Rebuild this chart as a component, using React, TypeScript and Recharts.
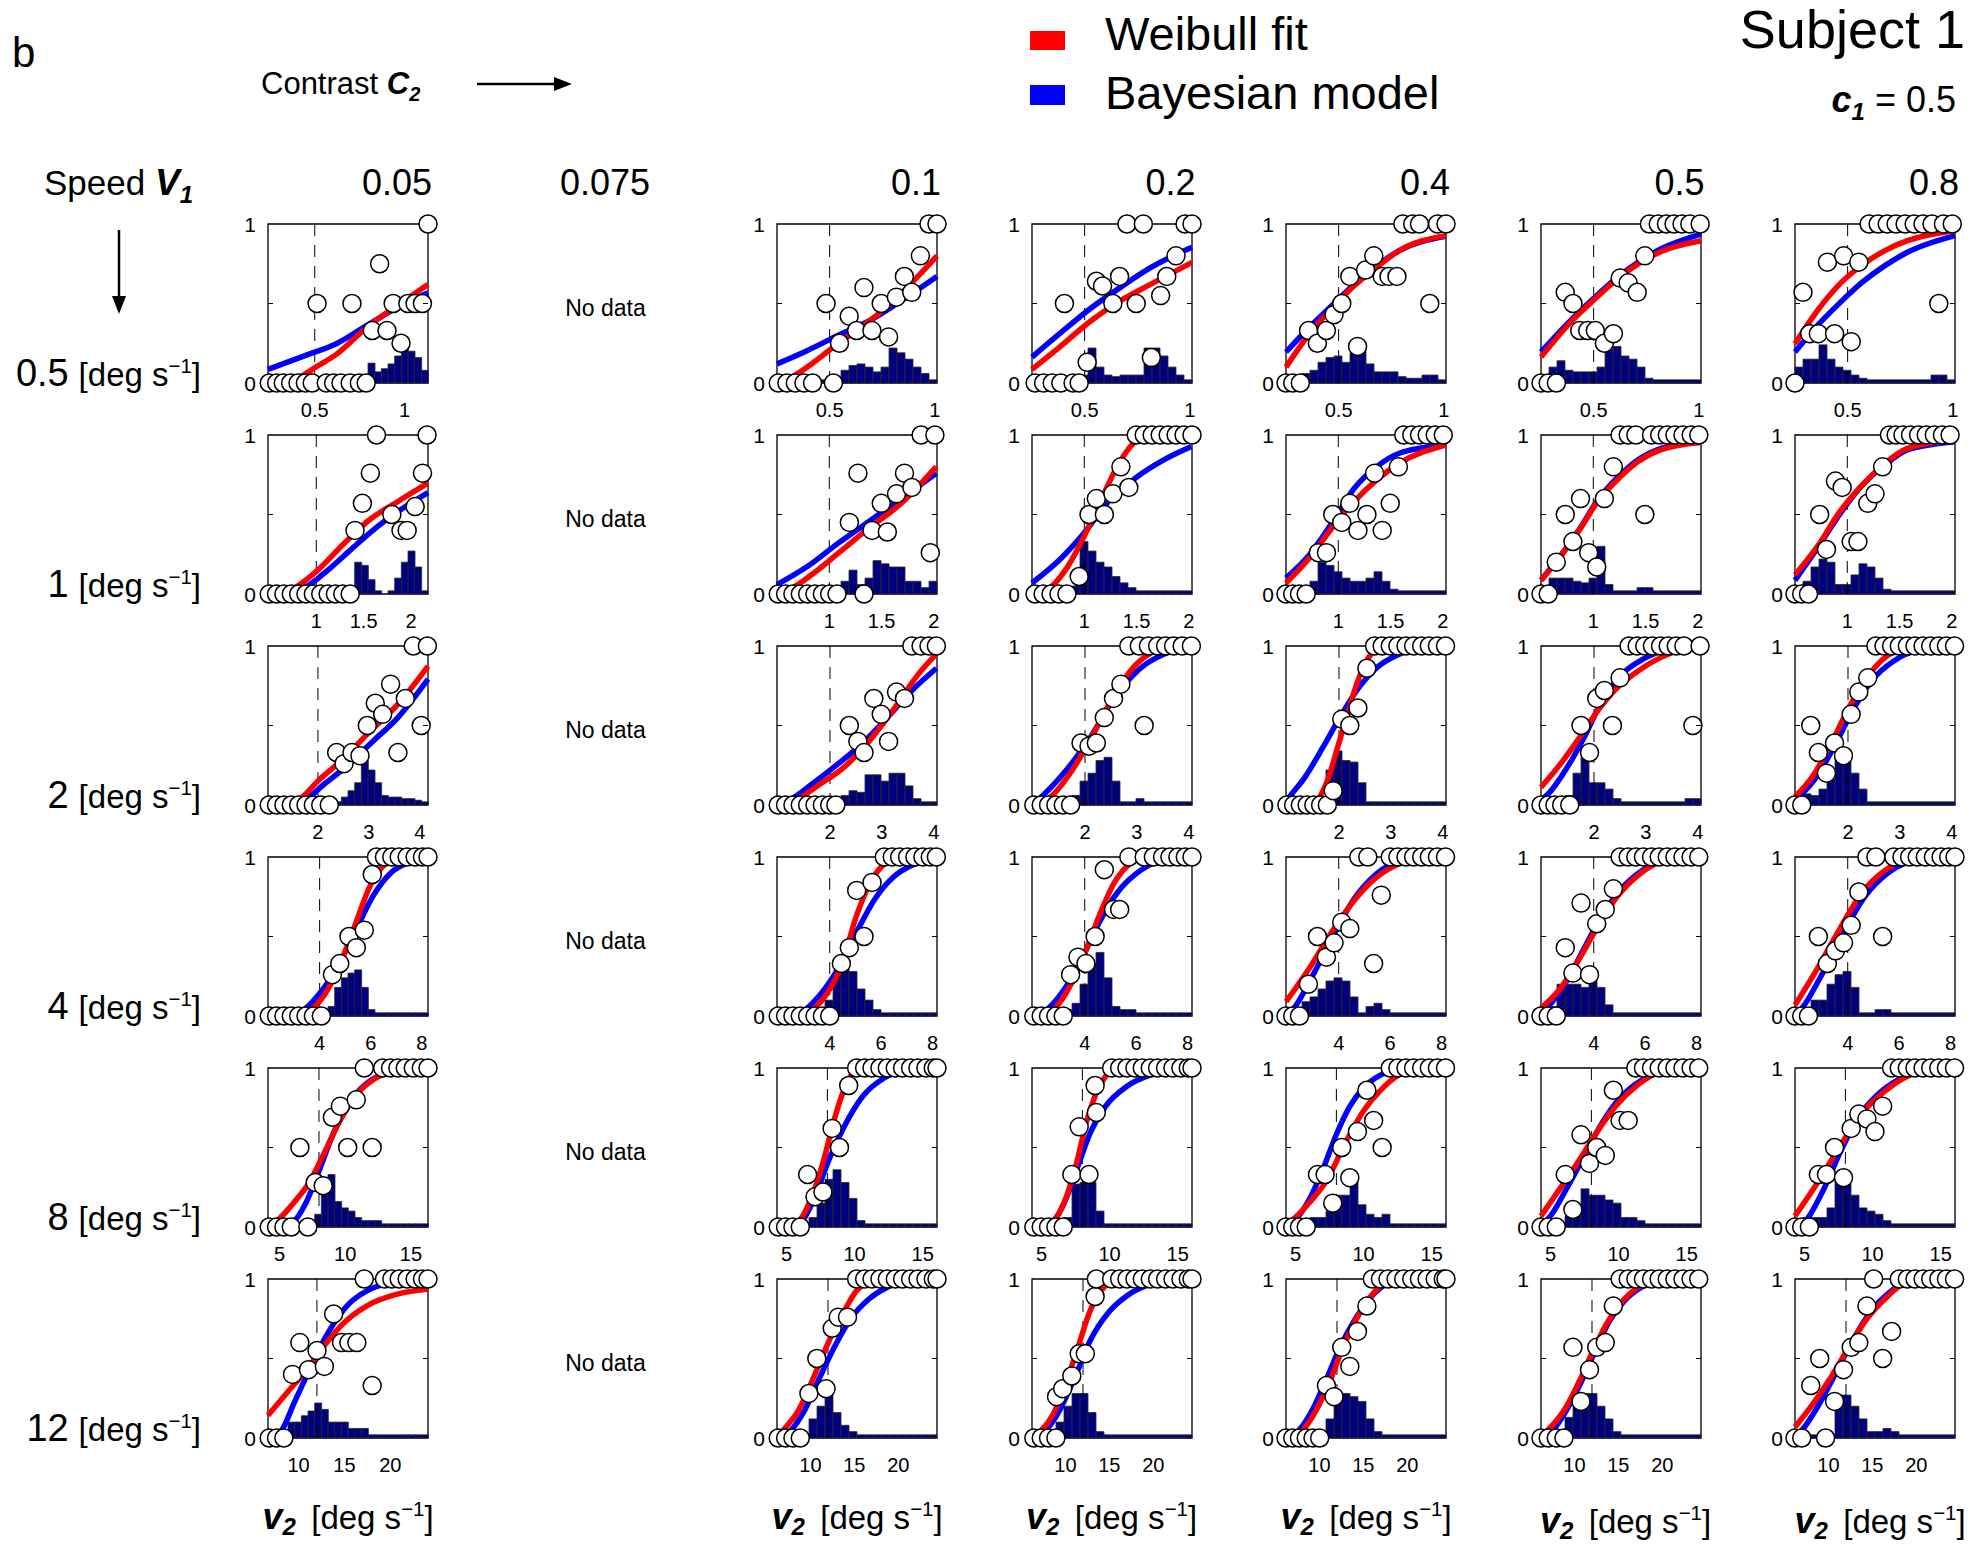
import React from "react";
import {
  ComposedChart,
  Bar,
  Line,
  Scatter,
  XAxis,
  YAxis,
  ReferenceLine,
  ReferenceArea
} from "recharts";

const FONT = '"Liberation Sans", Arial, Helvetica, sans-serif';

// rows: reference speed v1, columns: contrast c2
const speeds = [0.5, 1, 2, 4, 8, 12];
const speedLabels = ["0.5", "1", "2", "4", "8", "12"];
const contrasts = ["0.05", "0.1", "0.2", "0.4", "0.5", "0.8"];
const gridCols = [0, 2, 3, 4, 5, 6]; // grid slot of each contrast (slot 1 = 0.075, no data)
const xTicks = [[0.5, 1], [1, 1.5, 2], [2, 3, 4], [4, 6, 8], [5, 10, 15], [10, 15, 20]];
const domFirst = [[0.24, 1.13], [0.49, 2.18], [1.02, 4.16], [1.98, 8.24], [4.12, 16.3], [6.67, 24.1]];
const domRest = [[0.25, 1.01], [0.5, 2.03], [0.98, 4.06], [1.95, 8.17], [4.3, 16.05], [6.2, 24.4]];

// ---- v1 = 0.5 ----
const zeros1 = [
  [0.247, 0.288, 0.325, 0.366, 0.407, 0.448, 0.486, 0.564, 0.605, 0.646, 0.697, 0.748, 0.786],
  [0.256, 0.297, 0.337, 0.378, 0.419, 0.518],
  [0.265, 0.305, 0.346, 0.387, 0.445, 0.474],
  [0.25, 0.282, 0.318],
  [0.25, 0.284, 0.323],
  [0.25]
];
const ones1 = [
  [1.13],
  [0.972, 1.01],
  [0.701, 0.779, 0.977, 1.01],
  [0.805, 0.852, 0.884, 0.97, 1.01],
  [0.765, 0.807, 0.846, 0.882, 0.92, 0.957, 1.006],
  [0.602, 0.645, 0.688, 0.73, 0.773, 0.816, 0.858, 0.901, 0.955, 0.997]
];
const mids1 = [
  [[0.513, 0.5], [0.707, 0.5], [0.82, 0.33], [0.861, 0.75], [0.902, 0.33], [0.936, 0.5], [0.98, 0.25], [1.018, 0.5], [1.058, 0.5], [1.099, 0.5]],
  [[0.483, 0.5], [0.547, 0.25], [0.593, 0.42], [0.628, 0.33], [0.663, 0.6], [0.701, 0.33], [0.745, 0.5], [0.78, 0.29], [0.817, 0.54], [0.855, 0.67], [0.89, 0.57], [0.931, 0.8]],
  [[0.404, 0.5], [0.512, 0.13], [0.556, 0.64], [0.585, 0.61], [0.634, 0.5], [0.666, 0.67], [0.745, 0.5], [0.817, 0.16], [0.861, 0.55], [0.89, 0.67], [0.934, 0.8]],
  [[0.357, 0.33], [0.399, 0.25], [0.442, 0.33], [0.478, 0.43], [0.515, 0.5], [0.553, 0.67], [0.59, 0.23], [0.628, 0.71], [0.667, 0.8], [0.707, 0.67], [0.739, 0.67], [0.777, 0.67], [0.933, 0.5]],
  [[0.365, 0.57], [0.402, 0.5], [0.434, 0.33], [0.472, 0.33], [0.508, 0.33], [0.551, 0.25], [0.594, 0.31], [0.626, 0.66], [0.664, 0.63], [0.707, 0.57], [0.743, 0.8]],
  [[0.288, 0.57], [0.32, 0.31], [0.361, 0.31], [0.404, 0.76], [0.438, 0.31], [0.481, 0.8], [0.517, 0.26], [0.553, 0.76], [0.933, 0.5]]
];
const red1 = [
  [[0.24, 0], [0.4, 0.03], [0.52, 0.11], [0.62, 0.18], [0.79, 0.35], [0.963, 0.49], [1.13, 0.62]],
  [[0.25, 0], [0.323, 0.04], [0.425, 0.13], [0.541, 0.25], [0.628, 0.33], [0.774, 0.48], [0.919, 0.67], [1.01, 0.8]],
  [[0.25, 0.086], [0.381, 0.226], [0.526, 0.387], [0.672, 0.519], [0.817, 0.623], [1.01, 0.759]],
  [[0.25, 0.1], [0.361, 0.31], [0.468, 0.47], [0.575, 0.613], [0.681, 0.728], [0.788, 0.833], [1.01, 0.927]],
  [[0.25, 0.163], [0.391, 0.383], [0.498, 0.519], [0.604, 0.644], [0.711, 0.749], [0.818, 0.826], [1.01, 0.895]],
  [[0.25, 0.247], [0.357, 0.456], [0.463, 0.623], [0.57, 0.743], [0.677, 0.833], [0.784, 0.895], [1.01, 0.958]]
];
const blue1 = [
  [[0.24, 0.086], [0.45, 0.174], [0.62, 0.247], [0.79, 0.362], [0.963, 0.477], [1.13, 0.567]],
  [[0.25, 0.12], [0.395, 0.205], [0.541, 0.3], [0.687, 0.39], [0.832, 0.51], [1.01, 0.67]],
  [[0.25, 0.163], [0.381, 0.31], [0.526, 0.467], [0.672, 0.603], [0.817, 0.728], [1.01, 0.854]],
  [[0.25, 0.195], [0.361, 0.351], [0.468, 0.487], [0.575, 0.623], [0.681, 0.738], [0.788, 0.833], [1.01, 0.923]],
  [[0.25, 0.195], [0.391, 0.393], [0.498, 0.529], [0.604, 0.655], [0.711, 0.759], [0.818, 0.843], [1.01, 0.937]],
  [[0.25, 0.195], [0.357, 0.362], [0.463, 0.504], [0.57, 0.634], [0.677, 0.738], [0.784, 0.822], [1.01, 0.927]]
];
const hist1 = [
  [0.02, 0.02, 0.02, 0.02, 0.02, 0.02, 0.02, 0.02, 0.02, 0.02, 0.02, 0.02, 0.02, 0.02, 0.03, 0.125, 0.07, 0.09, 0.12, 0.17, 0.22, 0.2, 0.16, 0.08],
  [0.02, 0.02, 0.02, 0.02, 0.02, 0.02, 0.02, 0.02, 0.08, 0.11, 0.12, 0.1, 0.07, 0.1, 0.22, 0.19, 0.15, 0.1, 0.06, 0.02],
  [0.02, 0.02, 0.02, 0.02, 0.02, 0.02, 0.05, 0.22, 0.1, 0.05, 0.04, 0.05, 0.05, 0.05, 0.22, 0.22, 0.17, 0.1, 0.05, 0.02],
  [0.02, 0.02, 0.06, 0.08, 0.13, 0.16, 0.17, 0.13, 0.19, 0.21, 0.12, 0.07, 0.07, 0.07, 0.04, 0.03, 0.03, 0.05, 0.05, 0.02],
  [0.02, 0.1, 0.14, 0.08, 0.07, 0.07, 0.07, 0.1, 0.21, 0.23, 0.17, 0.15, 0.1, 0.03, 0.02, 0.02, 0.02, 0.02, 0.02, 0.02],
  [0.1, 0.15, 0.15, 0.24, 0.15, 0.1, 0.08, 0.05, 0.03, 0.02, 0.02, 0.02, 0.02, 0.02, 0.02, 0.02, 0.02, 0.05, 0.05, 0.02]
];

// ---- v1 = 1 ----
const zeros2 = [
  [0.503, 0.58, 0.658, 0.736, 0.814, 0.891, 0.969, 1.047, 1.125, 1.202, 1.28, 1.358],
  [0.512, 0.582, 0.652, 0.723, 0.793, 0.863, 0.934, 1.004, 1.074, 1.332],
  [0.529, 0.606, 0.682, 0.758, 0.834],
  [0.5, 0.564, 0.629, 0.693],
  [0.5, 0.569],
  [0.5, 0.564, 0.629]
];
const ones2 = [
  [1.636, 2.17],
  [1.878, 2.01],
  [1.497, 1.573, 1.649, 1.726, 1.802, 1.878, 1.954, 2.03],
  [1.626, 1.703, 1.777, 1.85, 1.927, 2.004],
  [1.256, 1.334, 1.407, 1.557, 1.635, 1.708, 1.781, 1.858, 1.936, 2.009],
  [1.403, 1.467, 1.532, 1.605, 1.682, 1.755, 1.832, 1.91, 1.983]
];
const mids2 = [
  [[1.409, 0.4], [1.487, 0.57], [1.571, 0.76], [1.798, 0.5], [1.895, 0.4], [1.96, 0.4], [2.044, 0.55], [2.122, 0.76]],
  [[1.192, 0.45], [1.274, 0.76], [1.409, 0.4], [1.497, 0.57], [1.555, 0.39], [1.643, 0.63], [1.719, 0.76], [1.79, 0.67], [1.966, 0.26]],
  [[0.951, 0.11], [1.045, 0.5], [1.115, 0.6], [1.192, 0.5], [1.274, 0.63], [1.35, 0.8], [1.426, 0.67]],
  [[0.809, 0.26], [0.887, 0.26], [0.947, 0.5], [1.033, 0.45], [1.11, 0.57], [1.188, 0.4], [1.274, 0.5], [1.347, 0.76], [1.42, 0.4], [1.497, 0.57], [1.575, 0.8]],
  [[0.646, 0.2], [0.732, 0.5], [0.805, 0.33], [0.878, 0.6], [0.956, 0.26], [1.033, 0.17], [1.106, 0.6], [1.192, 0.8], [1.493, 0.5]],
  [[0.736, 0.5], [0.801, 0.28], [0.887, 0.71], [0.951, 0.67], [1.037, 0.33], [1.102, 0.33], [1.196, 0.57], [1.265, 0.63], [1.338, 0.8]]
];
const red2 = [
  [[0.49, 0], [0.73, 0.027], [1.021, 0.153], [1.28, 0.31], [1.539, 0.456], [1.863, 0.582], [2.18, 0.697]],
  [[0.5, 0], [0.617, 0.027], [0.852, 0.132], [1.086, 0.257], [1.379, 0.414], [1.672, 0.561], [2.024, 0.801]],
  [[0.5, 0], [0.647, 0.027], [0.822, 0.153], [0.998, 0.362], [1.174, 0.613], [1.35, 0.843], [1.526, 0.979], [1.643, 1], [2.03, 1]],
  [[0.5, 0.069], [0.724, 0.226], [0.938, 0.414], [1.153, 0.582], [1.368, 0.718], [1.583, 0.822], [2.026, 0.937]],
  [[0.5, 0.086], [0.698, 0.247], [0.87, 0.404], [1.042, 0.582], [1.213, 0.707], [1.428, 0.833], [1.643, 0.906], [2.03, 0.952]],
  [[0.5, 0.121], [0.715, 0.3], [0.93, 0.519], [1.145, 0.686], [1.36, 0.822], [1.575, 0.916], [2.03, 0.969]]
];
const blue2 = [
  [[0.49, 0], [0.827, 0.027], [1.086, 0.132], [1.345, 0.268], [1.604, 0.404], [1.863, 0.519], [2.18, 0.638]],
  [[0.5, 0.059], [0.793, 0.174], [1.086, 0.32], [1.379, 0.456], [1.672, 0.592], [2.024, 0.759]],
  [[0.5, 0.069], [0.764, 0.215], [0.998, 0.383], [1.233, 0.582], [1.467, 0.718], [1.76, 0.843], [2.024, 0.927]],
  [[0.5, 0.1], [0.724, 0.247], [0.938, 0.446], [1.153, 0.665], [1.368, 0.801], [1.583, 0.885], [2.026, 0.937]],
  [[0.5, 0.086], [0.698, 0.25], [0.87, 0.41], [1.042, 0.59], [1.213, 0.72], [1.428, 0.845], [1.643, 0.915], [2.03, 0.96]],
  [[0.5, 0.086], [0.715, 0.289], [0.93, 0.504], [1.145, 0.686], [1.36, 0.812], [1.575, 0.906], [2.03, 0.958]]
];
const hist2 = [
  [0.02, 0.02, 0.02, 0.02, 0.02, 0.02, 0.02, 0.02, 0.02, 0.02, 0.02, 0.02, 0.05, 0.2, 0.18, 0.09, 0.02, 0, 0.02, 0.1, 0.2, 0.27, 0.17, 0.02],
  [0.02, 0.02, 0.02, 0.02, 0.02, 0.02, 0.02, 0.03, 0.08, 0.15, 0.06, 0.1, 0.21, 0.19, 0.17, 0.17, 0.08, 0.08, 0.04, 0.08],
  [0.02, 0.02, 0.02, 0.02, 0.02, 0.05, 0.33, 0.27, 0.2, 0.17, 0.11, 0.07, 0.04, 0.02, 0.02, 0.02, 0.02, 0.02, 0.02, 0.02],
  [0.02, 0.02, 0.02, 0.08, 0.2, 0.18, 0.14, 0.1, 0.08, 0.08, 0.1, 0.14, 0.08, 0.03, 0.02, 0.02, 0.02, 0.02, 0.02, 0.02],
  [0.02, 0.1, 0.1, 0.1, 0.08, 0.07, 0.1, 0.3, 0.06, 0.02, 0.02, 0.02, 0.04, 0.04, 0.02, 0.02, 0.02, 0.02, 0.02, 0.02],
  [0.02, 0.08, 0.17, 0.22, 0.2, 0.06, 0.06, 0.12, 0.19, 0.17, 0.1, 0.03, 0.02, 0.02, 0.02, 0.02, 0.02, 0.02, 0.02, 0.02]
];

// ---- v1 = 2 ----
const zeros3 = [
  [1.044, 1.188, 1.333, 1.477, 1.622, 1.766, 1.91, 2.055, 2.223],
  [1.004, 1.145, 1.287, 1.428, 1.57, 1.712, 1.853, 1.995, 2.113],
  [1.015, 1.157, 1.299, 1.44, 1.582, 1.723],
  [0.997, 1.127, 1.257, 1.387, 1.516, 1.646, 1.776],
  [0.98, 1.118, 1.248, 1.378, 1.534],
  [0.98, 1.11]
];
const ones3 = [
  [3.871, 4.148],
  [3.576, 3.753, 3.906, 4.048],
  [2.844, 3.045, 3.222, 3.399, 3.552, 3.706, 3.871, 4.048],
  [2.684, 2.831, 2.987, 3.134, 3.29, 3.437, 3.592, 3.739, 3.895, 4.051],
  [2.675, 2.831, 2.978, 3.125, 3.281, 3.428, 3.584, 3.731, 4.042],
  [2.537, 2.693, 2.84, 2.987, 3.143, 3.29, 3.445, 3.592, 3.748, 3.895, 4.051]
];
const mids3 = [
  [[2.367, 0.33], [2.512, 0.26], [2.668, 0.33], [2.825, 0.31], [2.969, 0.5], [3.125, 0.64], [3.27, 0.57], [3.426, 0.76], [3.57, 0.33], [3.715, 0.67], [4.027, 0.5]],
  [[2.372, 0.5], [2.538, 0.4], [2.656, 0.33], [2.844, 0.67], [2.986, 0.57], [3.128, 0.4], [3.281, 0.71], [3.434, 0.67]],
  [[1.924, 0.39], [2.077, 0.37], [2.219, 0.39], [2.372, 0.55], [2.549, 0.67], [2.691, 0.76], [3.139, 0.5]],
  [[1.888, 0.09], [2.053, 0.54], [2.208, 0.5], [2.364, 0.61], [2.537, 0.86]],
  [[1.75, 0.5], [1.914, 0.33], [2.053, 0.67], [2.2, 0.72], [2.355, 0.5], [2.502, 0.8], [3.904, 0.5]],
  [[1.283, 0.5], [1.43, 0.33], [1.586, 0.2], [1.741, 0.39], [1.914, 0.31], [2.061, 0.57], [2.208, 0.71], [2.381, 0.8]]
];
const red3 = [
  [[1.02, 0], [1.585, 0.027], [2.006, 0.153], [2.488, 0.289], [2.969, 0.446], [3.57, 0.634], [4.16, 0.874]],
  [[0.98, 0], [1.334, 0.03], [1.806, 0.13], [2.278, 0.24], [2.75, 0.4], [3.222, 0.6], [3.694, 0.82], [4.05, 0.95]],
  [[0.98, 0], [1.334, 0.05], [1.747, 0.215], [2.16, 0.446], [2.573, 0.697], [2.927, 0.864], [3.281, 0.958], [3.635, 0.994], [4.05, 1]],
  [[0.98, 0], [1.516, 0.017], [1.776, 0.153], [1.992, 0.383], [2.165, 0.571], [2.338, 0.759], [2.511, 0.895], [2.727, 0.979], [2.987, 1], [4.06, 1]],
  [[0.98, 0.111], [1.378, 0.268], [1.724, 0.425], [2.07, 0.592], [2.416, 0.728], [2.848, 0.843], [3.281, 0.927], [3.713, 0.979], [4.06, 0.994]],
  [[0.98, 0.052], [1.326, 0.184], [1.672, 0.383], [2.018, 0.613], [2.364, 0.801], [2.71, 0.927], [3.056, 0.979], [4.06, 1]]
];
const blue3 = [
  [[1.02, 0], [1.706, 0.027], [2.127, 0.132], [2.608, 0.257], [3.089, 0.404], [3.57, 0.55], [4.16, 0.791]],
  [[0.98, 0], [1.216, 0.03], [1.688, 0.14], [2.16, 0.26], [2.632, 0.39], [3.104, 0.55], [3.576, 0.72], [4.05, 0.86]],
  [[0.98, 0], [1.157, 0.05], [1.629, 0.215], [2.101, 0.425], [2.573, 0.676], [3.045, 0.854], [3.517, 0.948], [4.05, 0.99]],
  [[0.98, 0.02], [1.041, 0.048], [1.343, 0.174], [1.689, 0.362], [2.035, 0.561], [2.381, 0.738], [2.727, 0.864], [3.16, 0.948], [3.592, 0.99], [4.06, 1]],
  [[0.98, 0.03], [1.118, 0.069], [1.464, 0.226], [1.81, 0.425], [2.156, 0.655], [2.502, 0.812], [2.935, 0.916], [3.454, 0.979], [4.06, 1]],
  [[0.98, 0.027], [1.413, 0.184], [1.759, 0.383], [2.104, 0.603], [2.451, 0.78], [2.883, 0.906], [3.316, 0.969], [4.06, 0.994]]
];
const hist3 = [
  [0.02, 0.02, 0.02, 0.02, 0.02, 0.02, 0.02, 0.02, 0.02, 0.02, 0.02, 0.05, 0.09, 0.14, 0.28, 0.22, 0.14, 0.06, 0.05, 0.05, 0.04, 0.04, 0.03, 0.02],
  [0.02, 0.02, 0.02, 0.02, 0.02, 0.02, 0.02, 0.02, 0.06, 0.09, 0.08, 0.19, 0.19, 0.15, 0.2, 0.2, 0.12, 0.04, 0.02, 0.02],
  [0.02, 0.02, 0.02, 0.02, 0.02, 0.06, 0.15, 0.2, 0.28, 0.3, 0.15, 0.02, 0.02, 0.04, 0.02, 0.02, 0.02, 0.02, 0.02, 0.02],
  [0.02, 0.02, 0.02, 0.02, 0.02, 0.22, 0.34, 0.28, 0.27, 0.14, 0.02, 0.02, 0.02, 0.02, 0.02, 0.02, 0.02, 0.02, 0.02, 0.02],
  [0.02, 0.02, 0.02, 0.06, 0.2, 0.3, 0.14, 0.14, 0.1, 0.04, 0.02, 0.02, 0.02, 0.02, 0.02, 0.02, 0.02, 0.02, 0.04, 0.04],
  [0.02, 0.07, 0.06, 0.1, 0.16, 0.3, 0.32, 0.2, 0.1, 0.02, 0.02, 0.02, 0.02, 0.02, 0.02, 0.02, 0.02, 0.02, 0.02, 0.02]
];

// ---- v1 = 4 ----
const zeros4 = [
  [2.028, 2.316, 2.604, 2.892, 3.18, 3.468, 3.756, 4.068],
  [1.998, 2.284, 2.57, 2.856, 3.142, 3.428, 3.714, 4.0],
  [2.021, 2.307, 2.593, 2.879, 3.165],
  [1.95, 2.212, 2.474],
  [1.95, 2.23, 2.544],
  [1.95, 2.212, 2.474]
];
const ones4 = [
  [6.224, 6.536, 6.824, 7.112, 7.424, 7.736, 8.024, 8.24],
  [6.12, 6.43, 6.716, 7.026, 7.312, 7.622, 7.908, 8.146],
  [5.715, 6.311, 6.668, 7.026, 7.312, 7.621, 7.908, 8.17],
  [4.78, 5.13, 6.003, 6.3, 6.614, 6.911, 7.226, 7.523, 7.837, 8.152],
  [5.025, 5.339, 5.636, 5.933, 6.248, 6.545, 6.859, 7.156, 7.471, 7.785, 8.082],
  [4.745, 5.095, 5.793, 6.108, 6.405, 6.702, 7.016, 7.331, 7.628, 7.925, 8.17]
];
const mids4 = [
  [[4.5, 0.26], [4.788, 0.33], [5.148, 0.5], [5.436, 0.43], [5.748, 0.54], [6.06, 0.89]],
  [[4.452, 0.33], [4.762, 0.43], [5.048, 0.79], [5.334, 0.5], [5.644, 0.84]],
  [[3.451, 0.26], [3.737, 0.37], [4.047, 0.33], [4.404, 0.5], [4.762, 0.92], [5.12, 0.67], [5.358, 0.67]],
  [[2.823, 0.2], [3.173, 0.5], [3.522, 0.37], [3.819, 0.46], [4.116, 0.59], [4.431, 0.55], [5.357, 0.33], [5.654, 0.76]],
  [[2.893, 0.43], [3.19, 0.27], [3.505, 0.71], [3.837, 0.26], [4.116, 0.58], [4.448, 0.67], [4.763, 0.8]],
  [[2.858, 0.5], [3.208, 0.33], [3.522, 0.41], [3.837, 0.46], [4.134, 0.57], [4.431, 0.78], [5.357, 0.5]]
];
const red4 = [
  [[1.98, 0], [3.467, 0.027], [4.186, 0.132], [4.786, 0.32], [5.385, 0.571], [5.985, 0.822], [6.585, 0.958], [7.304, 1], [8.24, 1]],
  [[1.95, 0], [3.142, 0.027], [3.856, 0.132], [4.452, 0.32], [5.048, 0.634], [5.525, 0.822], [6.001, 0.937], [6.716, 0.994], [8.17, 1]],
  [[1.95, 0], [2.665, 0.027], [3.38, 0.174], [3.976, 0.383], [4.571, 0.634], [5.167, 0.843], [5.763, 0.958], [6.359, 0.994], [8.17, 1]],
  [[1.95, 0.09], [2.858, 0.3], [3.732, 0.529], [4.605, 0.728], [5.479, 0.874], [6.352, 0.958], [7.226, 0.994], [8.17, 1]],
  [[1.95, 0.048], [2.754, 0.184], [3.452, 0.362], [4.151, 0.561], [4.85, 0.738], [5.724, 0.885], [6.597, 0.969], [7.471, 0.994], [8.17, 1]],
  [[1.95, 0.069], [2.824, 0.3], [3.697, 0.55], [4.571, 0.78], [5.444, 0.916], [6.143, 0.979], [6.842, 1], [8.17, 1]]
];
const blue4 = [
  [[1.98, 0], [3.227, 0.027], [3.947, 0.132], [4.666, 0.299], [5.385, 0.529], [6.105, 0.759], [6.824, 0.906], [7.544, 0.969], [8.24, 0.994]],
  [[1.95, 0], [2.903, 0.027], [3.618, 0.132], [4.333, 0.299], [5.048, 0.529], [5.763, 0.738], [6.478, 0.874], [7.193, 0.948], [8.17, 0.985]],
  [[1.95, 0], [2.427, 0.027], [3.142, 0.153], [3.856, 0.351], [4.571, 0.592], [5.286, 0.78], [6.001, 0.895], [6.835, 0.969], [8.17, 0.994]],
  [[1.95, 0.01], [2.247, 0.048], [2.858, 0.215], [3.732, 0.487], [4.605, 0.738], [5.479, 0.895], [6.352, 0.979], [7.051, 1], [8.17, 1]],
  [[1.95, 0.02], [2.23, 0.059], [2.928, 0.215], [3.627, 0.425], [4.326, 0.634], [5.025, 0.791], [5.898, 0.916], [6.946, 0.99], [8.17, 1]],
  [[1.95, 0.01], [2.212, 0.048], [2.911, 0.236], [3.784, 0.508], [4.658, 0.749], [5.531, 0.895], [6.318, 0.969], [7.191, 1], [8.17, 1]]
];
const hist4 = [
  [0.02, 0.02, 0.02, 0.02, 0.02, 0.02, 0.02, 0.02, 0.02, 0.06, 0.18, 0.24, 0.27, 0.29, 0.18, 0.04, 0.02, 0.02, 0.02, 0.02, 0.02, 0.02, 0.02, 0.02],
  [0.02, 0.02, 0.02, 0.02, 0.02, 0.02, 0.1, 0.26, 0.34, 0.28, 0.17, 0.1, 0.04, 0.02, 0.02, 0.02, 0.02, 0.02, 0.02, 0.02],
  [0.02, 0.02, 0.02, 0.02, 0.04, 0.08, 0.2, 0.33, 0.4, 0.24, 0.06, 0.04, 0.04, 0.02, 0.02, 0.02, 0.02, 0.02, 0.02, 0.02],
  [0.02, 0.02, 0.09, 0.12, 0.17, 0.22, 0.24, 0.22, 0.12, 0.02, 0.06, 0.08, 0.04, 0.02, 0.02, 0.02, 0.02, 0.02, 0.02, 0.02],
  [0.02, 0.06, 0.2, 0.2, 0.2, 0.18, 0.24, 0.18, 0.07, 0.02, 0.02, 0.02, 0.02, 0.02, 0.02, 0.02, 0.02, 0.02, 0.02, 0.02],
  [0.02, 0.04, 0.1, 0.1, 0.2, 0.26, 0.28, 0.18, 0.02, 0.02, 0.04, 0.04, 0.02, 0.02, 0.02, 0.02, 0.02, 0.02, 0.02, 0.02]
];

// ---- v1 = 8 ----
const zeros5 = [
  [4.213, 4.773, 5.333, 5.893, 7.153],
  [4.39, 4.93, 5.47, 6.01],
  [4.435, 4.975, 5.515, 6.055, 6.595],
  [4.3, 4.795, 5.29, 5.785],
  [4.3, 4.828, 5.422],
  [4.3, 4.795, 5.356]
];
const ones5 = [
  [11.45, 12.85, 13.45, 14.01, 14.57, 15.18, 15.79, 16.3],
  [10.15, 10.735, 11.275, 11.86, 12.4, 12.985, 13.525, 14.11, 14.65, 15.235, 15.775, 16.05],
  [10.15, 10.735, 11.275, 11.86, 12.4, 12.985, 13.525, 14.11, 14.65, 15.235, 15.775, 16.05],
  [11.956, 12.517, 13.111, 13.672, 14.266, 14.827, 15.421, 16.015],
  [11.263, 11.824, 12.418, 12.979, 13.573, 14.134, 14.728, 15.322, 15.883],
  [11.395, 11.956, 12.55, 13.111, 13.705, 14.266, 14.86, 15.421, 16.015]
];
const mids5 = [
  [[6.547, 0.5], [7.714, 0.28], [8.32, 0.26], [9.02, 0.69], [9.627, 0.76], [10.187, 0.5], [10.84, 0.8], [12.05, 0.5]],
  [[6.55, 0.33], [7.09, 0.19], [7.675, 0.22], [8.35, 0.62], [8.89, 0.5], [9.565, 0.89]],
  [[7.225, 0.33], [7.765, 0.63], [8.485, 0.33], [8.935, 0.89], [9.025, 0.72]],
  [[6.61, 0.33], [7.171, 0.33], [7.732, 0.15], [8.392, 0.5], [8.986, 0.31], [9.547, 0.6], [10.24, 0.86], [10.735, 0.67], [11.362, 0.5]],
  [[6.082, 0.33], [6.643, 0.11], [7.237, 0.58], [7.864, 0.4], [8.392, 0.5], [9.019, 0.45], [9.613, 0.86], [10.108, 0.67], [10.702, 0.67]],
  [[6.016, 0.33], [6.61, 0.33], [7.204, 0.5], [7.864, 0.31], [8.425, 0.62], [8.986, 0.71], [9.58, 0.68], [10.174, 0.6], [10.735, 0.76]]
];
const red5 = [
  [[4.12, 0.01], [4.913, 0.048], [6.08, 0.153], [7.247, 0.278], [8.413, 0.467], [9.58, 0.665], [10.747, 0.822], [12.147, 0.927], [14.013, 0.99], [16.3, 1]],
  [[4.3, 0], [5.875, 0.038], [6.775, 0.174], [7.675, 0.404], [8.575, 0.697], [9.475, 0.916], [10.375, 0.99], [16.05, 1]],
  [[4.3, 0], [5.65, 0.027], [6.55, 0.132], [7.45, 0.362], [8.35, 0.676], [9.25, 0.885], [10.15, 0.979], [11.5, 1], [16.05, 1]],
  [[4.3, 0.02], [4.696, 0.04], [6.016, 0.153], [7.336, 0.3], [8.656, 0.529], [9.976, 0.728], [11.296, 0.864], [12.616, 0.958], [13.936, 0.994], [16.05, 1]],
  [[4.3, 0.069], [5.818, 0.257], [7.138, 0.425], [8.458, 0.603], [9.778, 0.759], [11.428, 0.895], [13.078, 0.979], [14.728, 1], [16.05, 1]],
  [[4.3, 0.069], [5.95, 0.278], [7.6, 0.508], [9.25, 0.718], [10.9, 0.854], [12.55, 0.948], [14.2, 0.99], [16.05, 1]]
];
const blue5 = [
  [[4.12, 0], [6.08, 0.038], [7.013, 0.153], [7.947, 0.341], [9.113, 0.592], [10.28, 0.78], [11.68, 0.906], [13.547, 0.973], [16.3, 0.994]],
  [[4.3, 0], [6.1, 0.038], [7.0, 0.174], [8.125, 0.425], [9.25, 0.634], [10.6, 0.822], [12.175, 0.937], [14.2, 0.99], [16.05, 1]],
  [[4.3, 0], [5.875, 0.038], [6.775, 0.174], [7.675, 0.383], [8.575, 0.592], [9.7, 0.759], [11.275, 0.885], [13.075, 0.958], [14.875, 0.99], [16.05, 1]],
  [[4.3, 0.02], [5.026, 0.052], [6.016, 0.174], [7.006, 0.362], [7.996, 0.582], [8.986, 0.759], [9.976, 0.874], [11.296, 0.958], [12.616, 0.994], [16.05, 1]],
  [[4.3, 0.02], [4.828, 0.052], [6.148, 0.236], [7.468, 0.446], [8.788, 0.655], [10.108, 0.812], [11.758, 0.927], [13.408, 0.985], [15.388, 1], [16.05, 1]],
  [[4.3, 0], [4.96, 0.027], [6.28, 0.215], [7.6, 0.467], [8.92, 0.686], [10.24, 0.822], [11.89, 0.927], [13.87, 0.985], [16.05, 1]]
];
const hist5 = [
  [0.02, 0.02, 0.02, 0.02, 0.02, 0.02, 0.02, 0.08, 0.3, 0.33, 0.16, 0.12, 0.1, 0.06, 0.04, 0.04, 0.04, 0.02, 0.02, 0.02, 0.02, 0.02, 0.02, 0.02],
  [0.02, 0.02, 0.02, 0.02, 0.06, 0.15, 0.3, 0.36, 0.28, 0.18, 0.04, 0.02, 0.02, 0.02, 0.02, 0.02, 0.02, 0.02, 0.02, 0.02],
  [0.02, 0.02, 0.02, 0.02, 0.06, 0.27, 0.28, 0.28, 0.1, 0.02, 0.02, 0.02, 0.02, 0.02, 0.02, 0.02, 0.02, 0.02, 0.02, 0.02],
  [0.02, 0.02, 0.02, 0.06, 0.06, 0.1, 0.2, 0.2, 0.3, 0.14, 0.08, 0.06, 0.08, 0.02, 0.02, 0.02, 0.02, 0.02, 0.02, 0.02],
  [0.02, 0.02, 0.02, 0.07, 0.1, 0.24, 0.2, 0.2, 0.17, 0.15, 0.06, 0.06, 0.04, 0.02, 0.02, 0.02, 0.02, 0.02, 0.02, 0.02],
  [0.02, 0.06, 0.06, 0.06, 0.12, 0.3, 0.32, 0.2, 0.12, 0.1, 0.08, 0.04, 0.02, 0.02, 0.02, 0.02, 0.02, 0.02, 0.02, 0.02]
];

// ---- v1 = 12 ----
const zeros6 = [
  [6.8, 7.6, 8.4],
  [6.34, 7.18, 8.01, 8.85],
  [6.41, 7.25, 8.08, 8.92],
  [6.2, 6.97, 7.73, 8.5, 9.27, 10.03],
  [6.2, 7.02, 7.94, 8.81],
  [6.2, 6.97, 9.68]
];
const ones6 = [
  [17.15, 19.36, 20.16, 20.96, 21.83, 22.7, 23.5, 24.1],
  [15.26, 16.17, 17.01, 17.91, 18.75, 19.66, 20.49, 21.4, 22.24, 23.14, 23.98, 24.4],
  [13.52, 15.26, 16.17, 17.01, 17.91, 18.75, 19.66, 20.49, 21.4, 22.24, 23.14, 23.98, 24.4],
  [16.02, 16.94, 17.8, 18.72, 19.59, 20.51, 21.38, 22.25, 23.17, 24.09, 24.4],
  [15.2, 16.12, 16.99, 17.86, 18.78, 19.64, 20.56, 21.43, 22.35, 23.27, 24.14],
  [15.15, 18.06, 18.98, 19.85, 20.77, 21.64, 22.56, 23.43, 24.35]
];
const mids6 = [
  [[9.34, 0.4], [10.14, 0.6], [11.08, 0.43], [12.01, 0.55], [12.81, 0.45], [13.82, 0.78], [14.68, 0.6], [15.48, 0.6], [16.35, 0.6], [18.02, 0.33]],
  [[9.83, 0.28], [10.73, 0.5], [11.78, 0.31], [12.48, 0.69], [13.17, 0.76], [14.22, 0.76]],
  [[8.99, 0.26], [9.69, 0.31], [10.73, 0.39], [11.57, 0.53], [12.27, 0.53], [13.38, 0.89]],
  [[10.8, 0.33], [11.67, 0.26], [12.54, 0.57], [13.46, 0.45], [14.33, 0.67], [15.4, 0.83]],
  [[9.83, 0.57], [10.75, 0.23], [11.72, 0.43], [12.54, 0.57], [13.51, 0.6], [14.43, 0.83]],
  [[7.99, 0.33], [9.01, 0.5], [10.7, 0.23], [11.72, 0.43], [12.59, 0.57], [13.46, 0.6], [14.38, 0.83], [16.17, 0.5], [17.19, 0.67]]
];
const red6 = [
  [[6.67, 0.142], [8.81, 0.289], [10.81, 0.425], [12.81, 0.582], [14.82, 0.718], [17.49, 0.833], [20.83, 0.906], [24.1, 0.937]],
  [[6.2, 0], [6.9, 0.048], [8.64, 0.174], [10.38, 0.383], [12.13, 0.613], [13.87, 0.801], [15.26, 0.927], [16.66, 0.979], [18.75, 1], [24.4, 1]],
  [[6.2, 0], [7.25, 0.048], [8.64, 0.153], [10.03, 0.341], [11.43, 0.571], [12.82, 0.801], [14.22, 0.937], [15.61, 0.994], [24.4, 1]],
  [[6.2, 0], [8.09, 0.048], [9.62, 0.174], [11.16, 0.351], [12.69, 0.571], [14.23, 0.749], [15.76, 0.885], [17.29, 0.969], [19.08, 1], [24.4, 1]],
  [[6.2, 0.01], [7.02, 0.052], [9.06, 0.195], [10.6, 0.362], [12.13, 0.55], [13.66, 0.718], [15.2, 0.843], [17.24, 0.948], [19.29, 0.994], [24.4, 1]],
  [[6.2, 0.069], [8.24, 0.215], [10.29, 0.383], [12.33, 0.571], [14.38, 0.749], [16.42, 0.874], [18.47, 0.969], [20.0, 0.994], [24.4, 1]]
];
const blue6 = [
  [[6.67, 0], [8.14, 0.048], [9.47, 0.215], [10.81, 0.383], [12.15, 0.55], [13.82, 0.718], [15.48, 0.843], [17.49, 0.927], [19.49, 0.969], [22.83, 0.994], [24.1, 1]],
  [[6.2, 0], [7.59, 0.038], [9.34, 0.174], [11.08, 0.383], [12.82, 0.582], [14.57, 0.749], [16.66, 0.874], [18.75, 0.948], [21.54, 0.99], [24.4, 1]],
  [[6.2, 0], [7.59, 0.038], [9.34, 0.174], [11.08, 0.383], [12.82, 0.613], [14.92, 0.791], [17.01, 0.895], [19.8, 0.969], [22.59, 0.994], [24.4, 1]],
  [[6.2, 0], [7.73, 0.052], [9.37, 0.195], [10.9, 0.383], [12.44, 0.582], [13.97, 0.738], [15.5, 0.864], [17.04, 0.948], [19.08, 0.994], [24.4, 1]],
  [[6.2, 0], [7.53, 0.048], [9.32, 0.195], [10.85, 0.362], [12.39, 0.55], [13.92, 0.728], [15.71, 0.864], [17.75, 0.952], [20.31, 0.994], [24.4, 1]],
  [[6.2, 0.01], [6.97, 0.048], [8.76, 0.195], [10.8, 0.404], [12.85, 0.623], [14.89, 0.801], [16.94, 0.916], [18.98, 0.979], [24.4, 1]]
];
const hist6 = [
  [0.02, 0.02, 0.02, 0.1, 0.1, 0.14, 0.17, 0.22, 0.18, 0.1, 0.1, 0.1, 0.06, 0.06, 0.06, 0.02, 0.02, 0.02, 0.02, 0.02, 0.02, 0.02, 0.02, 0.02],
  [0.02, 0.02, 0.02, 0.02, 0.12, 0.2, 0.33, 0.16, 0.08, 0.04, 0.02, 0.02, 0.02, 0.02, 0.02, 0.02, 0.02, 0.02, 0.02, 0.02],
  [0.02, 0.02, 0.02, 0.1, 0.2, 0.28, 0.28, 0.16, 0.04, 0.02, 0.02, 0.02, 0.02, 0.02, 0.02, 0.02, 0.02, 0.02, 0.02, 0.02],
  [0.02, 0.02, 0.02, 0.02, 0.02, 0.12, 0.27, 0.28, 0.26, 0.23, 0.12, 0.04, 0.02, 0.02, 0.02, 0.02, 0.02, 0.02, 0.02, 0.02],
  [0.02, 0.02, 0.04, 0.13, 0.2, 0.28, 0.28, 0.2, 0.12, 0.04, 0.02, 0.02, 0.02, 0.02, 0.02, 0.02, 0.02, 0.02, 0.02, 0.02],
  [0.02, 0.02, 0.02, 0.02, 0.02, 0.27, 0.27, 0.2, 0.12, 0.04, 0.04, 0.06, 0.04, 0.02, 0.02, 0.02, 0.02, 0.02, 0.02, 0.02]
];

const zerosRows = [zeros1, zeros2, zeros3, zeros4, zeros5, zeros6];
const onesRows = [ones1, ones2, ones3, ones4, ones5, ones6];
const midsRows = [mids1, mids2, mids3, mids4, mids5, mids6];
const redRows = [red1, red2, red3, red4, red5, red6];
const blueRows = [blue1, blue2, blue3, blue4, blue5, blue6];
const histRows = [hist1, hist2, hist3, hist4, hist5, hist6];

// layout (page pixels)
const PW = 160;
const PH = 159;
const ML = 34; // room for 0 / 1 labels
const MT = 12;
const MR = 14;
const XH = 42;
const colLeft = (c: number) => 268 + c * 254.5;
const rowTop = (r: number) => 224 + r * 211;

const YTick = (props: any) => {
  const { x, y, payload } = props;
  const v = payload.value;
  if (v === 0.5) {
    const ax = x + 12;
    return (
      <g>
        <line x1={ax} x2={ax + 5} y1={y} y2={y} stroke="#000" strokeWidth={1} />
        <line x1={ax + PW - 5} x2={ax + PW} y1={y} y2={y} stroke="#000" strokeWidth={1} />
      </g>
    );
  }
  return (
    <text x={x} y={y} dy="0.36em" textAnchor="end" fontSize={21} fontFamily={FONT} fill="#000">
      {v}
    </text>
  );
};

const Ring = (p: any) => (
  <circle cx={p.cx} cy={p.cy} r={9} fill="#fff" stroke="#000" strokeWidth={1.5} />
);

const toXY = (arr: number[][]) => arr.map(([x, y]) => ({ x, y }));

function Panel({ r, ci }: { r: number; ci: number }) {
  const c = gridCols[ci];
  const dom = ci === 0 ? domFirst[r] : domRest[r];
  const hist = histRows[r][ci].map((h, i) => ({ bin: i, h }));
  const pts = [
    ...zerosRows[r][ci].map((x) => ({ x, y: 0 })),
    ...toXY(midsRows[r][ci]),
    ...onesRows[r][ci].map((x) => ({ x, y: 1 }))
  ];
  return (
    <div style={{ position: "absolute", left: colLeft(c) - ML, top: rowTop(r) - MT }}>
      <ComposedChart
        width={ML + PW + MR}
        height={MT + PH + XH}
        data={hist}
        margin={{ top: MT, right: MR, bottom: 0, left: 0 }}
        barCategoryGap={0}
        barGap={0}
      >
        <XAxis
          xAxisId="v"
          dataKey="x"
          type="number"
          domain={dom}
          ticks={xTicks[r]}
          height={XH}
          tickSize={0}
          tickMargin={20}
          axisLine={false}
          tickLine={false}
          tick={{ fontSize: 20, fill: "#000", fontFamily: FONT }}
        />
        <XAxis xAxisId="h" dataKey="bin" type="category" height={0} hide />
        <YAxis
          yAxisId="y"
          dataKey="y"
          type="number"
          domain={[0, 1]}
          ticks={[0, 0.5, 1]}
          width={ML}
          tickSize={0}
          tickMargin={12}
          axisLine={false}
          tickLine={false}
          tick={<YTick />}
        />
        <ReferenceArea xAxisId="v" yAxisId="y" x1={dom[0]} x2={dom[1]} y1={0} y2={1} fill="none" fillOpacity={0} stroke="#000" strokeWidth={1.3} />
        <ReferenceLine xAxisId="v" yAxisId="y" x={speeds[r]} stroke="#000" strokeWidth={1} strokeDasharray="12 9" />
        <Bar xAxisId="h" yAxisId="y" dataKey="h" fill="#00007e" stroke="#2a2a2a" strokeWidth={0.8} isAnimationActive={false} />
        <Line xAxisId="v" yAxisId="y" data={toXY(blueRows[r][ci])} dataKey="y" type="monotone" stroke="#0000ff" strokeWidth={5.5} dot={false} activeDot={false} isAnimationActive={false} />
        <Line xAxisId="v" yAxisId="y" data={toXY(redRows[r][ci])} dataKey="y" type="monotone" stroke="#ff0000" strokeWidth={5.5} dot={false} activeDot={false} isAnimationActive={false} />
        <Scatter xAxisId="v" yAxisId="y" data={pts} shape={Ring} isAnimationActive={false} />
      </ComposedChart>
    </div>
  );
}

const DegUnit = ({ size }: { size: number }) => (
  <>
    <tspan fontSize={size} dx={size * 0.3}>[deg s</tspan>
    <tspan fontSize={size * 0.62} dy={-size * 0.4}>−1</tspan>
    <tspan fontSize={size} dy={size * 0.4}>]</tspan>
  </>
);

export default function App() {
  const panels = [];
  for (let r = 0; r < speeds.length; r++) {
    for (let ci = 0; ci < contrasts.length; ci++) {
      panels.push(<Panel key={`${r}-${ci}`} r={r} ci={ci} />);
    }
  }
  return (
    <div style={{ position: "absolute", left: 0, top: 0, width: 1969, height: 1546, background: "#fff", fontFamily: FONT }}>
      <svg width={1969} height={1546} style={{ position: "absolute", left: 0, top: 0 }} fontFamily={FONT}>
        <text x={12} y={67} fontSize={42}>b</text>

        <text x={261} y={94} fontSize={31}>
          Contrast <tspan fontStyle="italic" fontWeight="bold">C</tspan>
          <tspan fontStyle="italic" fontWeight="bold" fontSize={20} dy={7}>2</tspan>
        </text>
        <line x1={477} y1={84} x2={560} y2={84} stroke="#000" strokeWidth={2.5} />
        <polygon points="572,84 554,77 554,91" fill="#000" />

        <rect x={1030} y={31} width={35} height={19} fill="#ff0000" />
        <rect x={1030} y={85} width={35} height={20} fill="#0000ff" />
        <text x={1105} y={50} fontSize={47}>Weibull fit</text>
        <text x={1105} y={109} fontSize={47}>Bayesian model</text>

        <text x={1965} y={48} fontSize={54} textAnchor="end">Subject 1</text>
        <text x={1956} y={112} fontSize={36} textAnchor="end">
          <tspan fontStyle="italic" fontWeight="bold">c</tspan>
          <tspan fontStyle="italic" fontWeight="bold" fontSize={24} dy={8}>1</tspan>
          <tspan dy={-8}> = 0.5</tspan>
        </text>

        <text x={44} y={195} fontSize={35}>
          Speed <tspan fontStyle="italic" fontWeight="bold" fontSize={37}>V</tspan>
          <tspan fontStyle="italic" fontWeight="bold" fontSize={24} dy={8}>1</tspan>
        </text>
        <line x1={119} y1={230} x2={119} y2={300} stroke="#000" strokeWidth={2.5} />
        <polygon points="119,314 112,296 126,296" fill="#000" />

        {contrasts.map((lab, ci) => (
          <text key={lab} x={colLeft(gridCols[ci]) + PW + 4} y={195} fontSize={36} textAnchor="end">
            {lab}
          </text>
        ))}
        <text x={560} y={195} fontSize={36}>0.075</text>

        {speedLabels.map((lab, r) => (
          <text key={lab} x={201} y={rowTop(r) + 162} fontSize={38} textAnchor="end">
            {lab}
            <DegUnit size={33} />
          </text>
        ))}

        {speedLabels.map((lab, r) => (
          <text key={"nd" + lab} x={colLeft(1) + PW / 2 + 3} y={rowTop(r) + 92} fontSize={23} textAnchor="middle">
            No data
          </text>
        ))}

        {gridCols.map((c) => (
          <text key={"xl" + c} x={colLeft(c) + PW / 2 + (c >= 5 ? 5 : 0)} y={c >= 5 ? 1533 : 1529} fontSize={36} textAnchor="middle">
            <tspan fontStyle="italic" fontWeight="bold">v</tspan>
            <tspan fontStyle="italic" fontWeight="bold" fontSize={24} dy={6}>2</tspan>
            <tspan dy={-6} fontSize={20}> </tspan>
            <DegUnit size={33} />
          </text>
        ))}
      </svg>
      {panels}
    </div>
  );
}
